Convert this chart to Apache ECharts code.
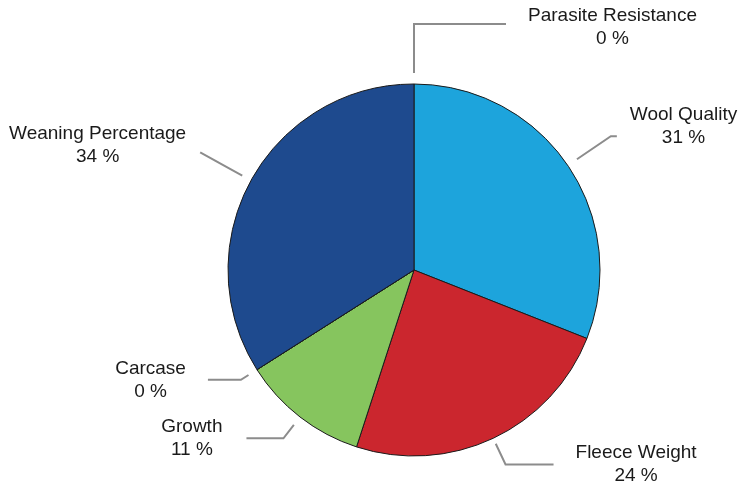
<!DOCTYPE html>
<html>
<head>
<meta charset="utf-8">
<script src="https://cdn.jsdelivr.net/npm/echarts@6/dist/echarts.min.js"></script>
<style>html,body{margin:0;padding:0;background:#fff}#c{width:744px;height:486px}</style>
</head>
<body>
<div id="c"></div>
<script>
var categories = ['Parasite Resistance', 'Wool Quality', 'Fleece Weight', 'Growth', 'Carcase', 'Weaning Percentage'];
var values = [0, 31, 24, 11, 0, 34];
var colors = ['#1a9fd8', '#1da4dc', '#cb262e', '#86c55e', '#1e4a8e', '#1e4a8e'];
// label line geometry per slice (length, length2, text gap, vertical nudge)
var lineLen = [60, 52, 29, 27, 19, 58];
var lineLen2 = [92, 6, 48, 37, 33, 0];
var textGap = [22, 13, 22, 24, 22, 14];
var textDy = [3, -10, 0, 0, 0, -7];
var lineGap = [11, 11, 6, 10, 10, 10];
var forceRight = [true, false, false, false, false, false];

var chart = echarts.init(document.getElementById('c'));
var data = categories.map(function (name, i) {
  return {
    name: name,
    value: values[i],
    itemStyle: { color: colors[i] },
    labelLine: { length: lineLen[i], length2: lineLen2[i] },
    label: { distanceToLabelLine: textGap[i] }
  };
});
chart.setOption({
  animation: false,
  series: [{
    type: 'pie',
    center: [414, 270],
    radius: [0, 186],
    startAngle: 90,
    clockwise: true,
    avoidLabelOverlap: false,
    stillShowZeroSum: true,
    data: data,
    itemStyle: { borderColor: '#1a1a1a', borderWidth: 1 },
    emphasis: { disabled: true },
    label: {
      show: true,
      position: 'outside',
      bleedMargin: 0,
      formatter: function (p) { return '{c|' + p.name + '}\n{c|' + p.value + ' %}'; },
      rich: {
        c: { align: 'center', fontFamily: '"Liberation Sans", Arial, sans-serif', fontSize: 19, color: '#1a1a1a', lineHeight: 23 }
      }
    },
    labelLine: {
      show: true,
      smooth: false,
      lineStyle: { color: '#8c8c8c', width: 2 }
    },
    labelLayout: function (p) {
      var i = p.dataIndex;
      var pts = p.labelLinePoints;
      var out = { dy: textDy[i] };
      if (pts && pts.length >= 2) {
        var a = pts[0], b = pts[1];
        var dx = b[0] - a[0], dy = b[1] - a[1];
        var len = Math.sqrt(dx * dx + dy * dy) || 1;
        var g = Math.min(lineGap[i], len * 0.6);
        var np = [[a[0] + dx / len * g, a[1] + dy / len * g], [b[0], b[1]]];
        for (var k = 2; k < pts.length; k++) np.push([pts[k][0], pts[k][1]]);
        if (forceRight[i] && np.length >= 3 && np[2][0] < np[1][0]) {
          np[2][0] = 2 * np[1][0] - np[2][0];
          out = {
            x: np[2][0] + textGap[i],
            y: np[2][1] + textDy[i],
            align: 'left',
            verticalAlign: 'middle'
          };
        }
        out.labelLinePoints = np;
      }
      return out;
    }
  }]
});
</script>
</body>
</html>
